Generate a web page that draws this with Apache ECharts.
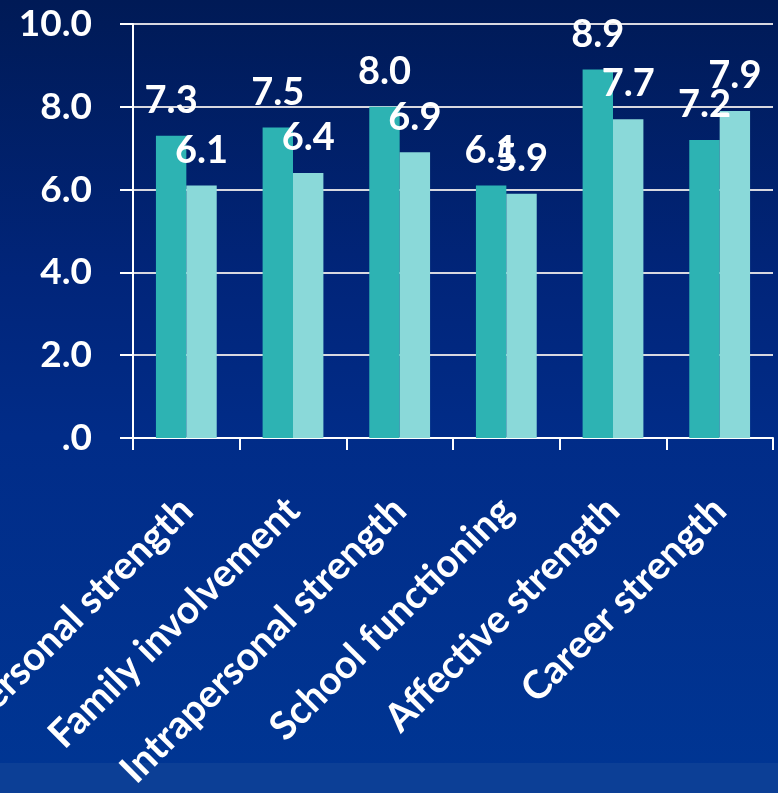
<!DOCTYPE html>
<html>
<head>
<meta charset="utf-8">
<script src="https://cdn.jsdelivr.net/npm/echarts@6/dist/echarts.min.js"></script>
<style>
  html, body { margin: 0; padding: 0; }
  #chart { width: 778px; height: 793px; }
</style>
</head>
<body>
<div id="chart"></div>
<script>
// Strength domains and the two score series
const categories = [
  'Interpersonal strength',
  'Family involvement',
  'Intrapersonal strength',
  'School functioning',
  'Affective strength',
  'Career strength'
];
const seriesA = [7.3, 7.5, 8.0, 6.1, 8.9, 7.2];
const seriesB = [6.1, 6.4, 6.9, 5.9, 7.7, 7.9];
const yTicks = [0, 2, 4, 6, 8, 10];

const FONT = 'Lato, "Open Sans", sans-serif';

const chart = echarts.init(document.getElementById('chart'), null, { renderer: 'canvas' });

const labelStyle = {
  show: true,
  position: 'top',
  distance: 16,
  color: '#ffffff',
  fontFamily: FONT,
  fontWeight: 'bold',
  fontSize: 38,
  formatter: p => p.value.toFixed(1)
};

chart.setOption({
  backgroundColor: {
    type: 'linear', x: 0, y: 0, x2: 0, y2: 1,
    colorStops: [
      { offset: 0, color: '#001a56' },
      { offset: 0.35, color: '#01257a' },
      { offset: 0.55, color: '#012c88' },
      { offset: 1, color: '#003694' }
    ]
  },
  graphic: [{
    type: 'rect',
    z: -10,
    left: 0,
    top: 763,
    shape: { width: 778, height: 30 },
    style: { fill: '#0c3f96' }
  }],
  animation: false,
  grid: {
    left: 133, right: 5, top: 24, bottom: 355,
    containLabel: false,
    outerBoundsMode: 'none'
  },
  xAxis: {
    type: 'category',
    data: categories,
    axisLine: { show: true, lineStyle: { color: '#ffffff', width: 2 } },
    axisTick: { show: true, length: 12, alignWithLabel: false, lineStyle: { color: '#ffffff', width: 2 } },
    axisLabel: {
      interval: 0,
      rotate: 45,
      margin: 66,
      color: '#ffffff',
      fontFamily: FONT,
      fontWeight: 'bold',
      fontSize: 39
    },
    splitLine: { show: false }
  },
  yAxis: {
    type: 'value',
    min: yTicks[0],
    max: yTicks[yTicks.length - 1],
    interval: 2,
    axisLine: { show: true, lineStyle: { color: '#ffffff', width: 2 } },
    axisTick: { show: true, length: 13, lineStyle: { color: '#ffffff', width: 2 } },
    axisLabel: {
      margin: 41,
      color: '#ffffff',
      fontFamily: FONT,
      fontWeight: 'bold',
      fontSize: 37,
      formatter: v => (v === 0 ? '.0' : v.toFixed(1))
    },
    splitLine: { show: true, lineStyle: { color: '#d8d8e0', width: 2 } }
  },
  series: [
    {
      type: 'bar',
      data: seriesA,
      barGap: '0%',
      barCategoryGap: '43%',
      itemStyle: { color: '#2db3b3' },
      label: labelStyle
    },
    {
      type: 'bar',
      data: seriesB,
      itemStyle: { color: '#8ad9d9' },
      label: labelStyle
    }
  ]
});
</script>
</body>
</html>
